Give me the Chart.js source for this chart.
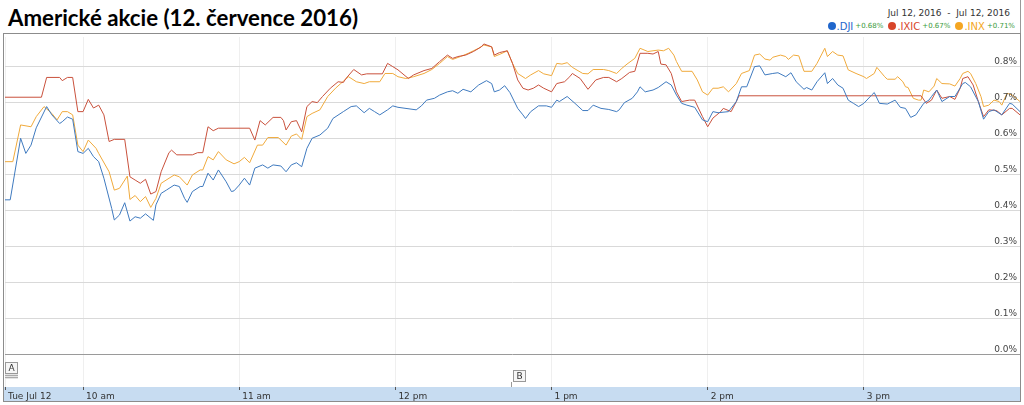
<!DOCTYPE html>
<html>
<head>
<meta charset="utf-8">
<script src="https://cdn.jsdelivr.net/npm/chart.js@4.4.1/dist/chart.umd.min.js"></script>
<style>
body{margin:0;width:1024px;height:405px;background:#fff;position:relative;overflow:hidden;font-family:"DejaVu Sans",Verdana,sans-serif}
#title{position:absolute;left:8px;top:6px;font:bold 23px/23px Lato,sans-serif;color:#000;white-space:nowrap;transform-origin:0 0}
#range{position:absolute;right:14px;top:8px;font-size:9px;line-height:11px;color:#333;white-space:pre}
#legend{position:absolute;right:9px;top:20px;height:12px;white-space:nowrap;display:flex;align-items:center}
#legend .dot{display:inline-block;width:8px;height:8px;border-radius:50%;margin-right:1px}
#legend .name{font-size:10px;margin-right:2px}
#legend .chg{font-size:7px;color:#3a9a3a;margin-right:5px}
#legend .chg:last-child{margin-right:0}
#edge{position:absolute;left:1020px;top:0;width:1px;height:34px;background:#999}
#frame{position:absolute;left:3px;top:33px;width:1016px;height:367px;border:1px solid #8c8c8c}
#chart{position:absolute;left:0;top:0}
</style>
</head>
<body>
<div id="title"></div>
<div id="range"></div>
<div id="legend"></div>
<div id="edge"></div>
<div id="frame"><canvas id="chart" width="1016" height="367"></canvas></div>
<script>
const titleText = "Americké akcie (12. července 2016)";
const rangeText = "Jul 12, 2016  -  Jul 12, 2016";

const seriesNames = [".DJI", ".IXIC", ".INX"];
const seriesChanges = ["+0.68%", "+0.67%", "+0.71%"];
const lineColors = ["#3f7abf", "#c9513c", "#f0aa3c"];
const dotColors = ["#1f66cc", "#d8452a", "#f4a623"];

// minutes after 9:30, percent change
const djiMinutes = [0,2,6,8,10,12,16,18,21,22,24,26,28,30,32,34,36,38,41,42,44,46,48,50,52,54,57,58,60,62,65,67,69,70,72,75,76,78,80,82,85,87,88,90,92,94,96,99,101,103,106,108,110,112,114,116,118,121,124,126,130,133,135,138,140,142,144,147,149,151,156,158,160,162,165,167,170,172,174,176,179,182,185,187,188,190,192,194,197,199,200,202,205,208,210,212,213,216,219,222,224,226,229,232,235,236,238,241,243,244,246,249,251,254,256,258,260,262,265,268,270,272,274,278,281,283,285,288,290,292,295,297,300,302,304,307,308,310,312,315,316,318,320,322,324,326,328,330,333,334,336,339,342,344,346,348,350,353,355,356,358,360,363,365,368,369,371,374,376,378,380,383,386,387,390];
const djiValues = [.431,.431,.602,.560,.583,.631,.690,.667,.643,.648,.661,.655,.565,.560,.574,.551,.537,.491,.407,.375,.389,.423,.372,.384,.380,.392,.374,.417,.449,.458,.472,.468,.435,.424,.454,.468,.468,.505,.486,.514,.481,.454,.456,.472,.491,.472,.519,.528,.519,.528,.525,.509,.528,.534,.523,.574,.602,.611,.630,.657,.676,.690,.692,.673,.685,.676,.667,.681,.692,.688,.683,.681,.692,.708,.713,.722,.731,.734,.727,.738,.731,.750,.762,.754,.731,.736,.748,.729,.685,.667,.657,.676,.692,.692,.688,.708,.704,.718,.699,.679,.679,.694,.685,.682,.676,.681,.701,.713,.731,.745,.731,.736,.743,.759,.750,.722,.699,.694,.688,.653,.648,.676,.673,.676,.704,.745,.745,.801,.803,.778,.782,.784,.773,.784,.759,.738,.743,.736,.759,.784,.754,.768,.750,.741,.708,.699,.690,.699,.722,.729,.699,.697,.708,.688,.685,.660,.667,.699,.708,.718,.736,.704,.718,.718,.754,.757,.745,.704,.655,.676,.681,.667,.699,.697,.676];

const ixicMinutes = [0,14,16,21,22,24,26,28,30,32,34,36,38,40,42,46,48,50,52,54,56,58,60,63,64,66,72,74,76,78,80,82,94,96,98,100,103,106,107,108,110,112,114,116,118,120,122,125,128,130,131,134,137,139,145,147,149,151,155,157,161,164,167,170,172,174,177,180,183,184,187,188,190,193,195,197,199,201,203,205,207,210,212,215,217,218,221,224,227,230,232,235,237,240,242,244,247,249,251,252,254,256,258,260,263,265,268,270,272,275,276,279,281,282,352,354,356,358,360,363,365,367,368,370,372,374,376,378,381,383,386,387,390];
const ixicValues = [.716,.716,.771,.771,.762,.771,.771,.676,.676,.710,.686,.694,.667,.593,.599,.599,.495,.486,.477,.488,.447,.454,.509,.562,.569,.556,.556,.562,.562,.634,.623,.630,.630,.597,.651,.639,.660,.660,.651,.625,.648,.651,.620,.690,.704,.701,.718,.741,.759,.757,.768,.793,.778,.781,.781,.810,.801,.792,.768,.778,.790,.796,.815,.833,.824,.829,.833,.843,.856,.864,.856,.833,.840,.845,.810,.764,.741,.736,.741,.750,.741,.731,.754,.759,.773,.782,.768,.738,.764,.771,.771,.759,.768,.785,.788,.838,.838,.836,.843,.808,.806,.782,.731,.704,.708,.708,.662,.634,.658,.676,.685,.676,.704,.720,.720,.699,.708,.736,.713,.718,.710,.741,.768,.773,.750,.704,.662,.681,.679,.667,.685,.685,.667];

const inxMinutes = [0,3,6,10,12,15,18,20,22,24,26,28,30,32,35,36,40,42,44,47,48,50,52,54,56,58,60,65,67,70,72,75,76,78,80,82,85,88,90,92,94,97,99,101,105,108,110,112,114,116,118,121,124,127,129,132,135,138,140,144,146,149,151,154,157,161,164,167,170,172,175,178,182,184,187,188,191,193,195,197,200,202,205,207,210,212,214,216,218,222,224,226,230,232,235,237,239,242,244,247,251,253,255,257,258,260,264,266,268,270,272,274,276,278,281,283,286,288,290,292,294,295,298,300,301,303,305,307,310,312,315,316,318,320,322,324,327,330,331,334,335,338,339,342,343,345,346,347,349,351,352,353,355,357,358,360,363,365,367,368,370,371,373,375,376,378,380,382,383,385,387,390];
const inxValues = [.537,.537,.639,.634,.662,.690,.671,.653,.676,.676,.667,.583,.565,.597,.574,.560,.509,.458,.463,.497,.432,.443,.426,.440,.410,.435,.477,.500,.495,.472,.500,.514,.514,.551,.542,.565,.542,.531,.537,.549,.534,.583,.583,.604,.604,.583,.608,.614,.599,.662,.671,.681,.718,.741,.754,.773,.759,.754,.759,.759,.782,.782,.773,.768,.773,.782,.793,.810,.829,.821,.829,.838,.852,.861,.856,.829,.838,.845,.810,.782,.768,.778,.790,.781,.776,.810,.808,.812,.799,.782,.781,.793,.793,.790,.782,.796,.808,.824,.852,.843,.847,.845,.852,.833,.815,.788,.788,.764,.731,.722,.741,.741,.745,.731,.754,.782,.790,.833,.836,.822,.819,.827,.833,.829,.821,.833,.831,.788,.788,.810,.852,.829,.843,.833,.831,.792,.782,.773,.768,.782,.799,.773,.766,.766,.773,.759,.745,.743,.713,.708,.708,.736,.731,.747,.768,.754,.753,.747,.768,.782,.788,.782,.754,.718,.690,.694,.708,.704,.694,.727,.722,.704];

const xTickMinutes = [0, 30, 90, 150, 210, 270, 330];
const xTickLabels = ["Tue Jul 12", "10 am", "11 am", "12 pm", "1 pm", "2 pm", "3 pm"];
const yTickValues = [0, 0.1, 0.2, 0.3, 0.4, 0.5, 0.6, 0.7, 0.8];

const flagLetters = ["A", "B"];
const flagMinutes = [0, 195];

// header
const titleEl = document.getElementById("title");
titleEl.textContent = titleText;
const tw = titleEl.getBoundingClientRect().width;
titleEl.style.transform = "scaleX(" + (350 / tw) + ")";
document.getElementById("range").textContent = rangeText;

const legendEl = document.getElementById("legend");
seriesNames.forEach((name, i) => {
    const dot = document.createElement("span");
    dot.className = "dot";
    dot.style.background = dotColors[i];
    const nm = document.createElement("span");
    nm.className = "name";
    nm.style.color = dotColors[i];
    nm.textContent = name;
    const ch = document.createElement("span");
    ch.className = "chg";
    ch.textContent = seriesChanges[i];
    legendEl.append(dot, nm, ch);
});

const bandPlugin = {
    id: "band",
    beforeDraw(chart) {
        const {ctx, chartArea} = chart;
        ctx.save();
        ctx.fillStyle = "#c7dcf1";
        ctx.fillRect(0, chartArea.bottom, chart.width, chart.height - chartArea.bottom);
        ctx.restore();
    }
};

const yLabelPlugin = {
    id: "yLabels",
    afterDatasetsDraw(chart) {
        const {ctx, chartArea, scales: {y}} = chart;
        ctx.save();
        ctx.font = "9px 'DejaVu Sans'";
        ctx.fillStyle = "#444";
        ctx.textAlign = "right";
        ctx.textBaseline = "bottom";
        yTickValues.forEach(v => {
            ctx.fillText(v.toFixed(1) + "%", chartArea.right - 3, y.getPixelForValue(v) - 1);
        });
        ctx.restore();
    }
};

const flagPlugin = {
    id: "flags",
    afterDatasetsDraw(chart) {
        const {ctx, chartArea, scales: {x}} = chart;
        ctx.save();
        ctx.font = "9px 'DejaVu Sans'";
        ctx.textAlign = "center";
        ctx.textBaseline = "middle";
        flagLetters.forEach((letter, i) => {
            const px = Math.round(x.getPixelForValue(flagMinutes[i]));
            const top = i === 0 ? chartArea.bottom - 25 : chartArea.bottom - 17;
            ctx.strokeStyle = "#999";
            ctx.lineWidth = 1;
            if (i === 0) {
                ctx.fillStyle = "#e4e4e4";
                ctx.fillRect(px, top + 12, 13, 5);
                ctx.strokeStyle = "#aaa";
                ctx.beginPath();
                ctx.moveTo(px, top + 13.5); ctx.lineTo(px + 13, top + 13.5);
                ctx.moveTo(px, top + 15.5); ctx.lineTo(px + 13, top + 15.5);
                ctx.stroke();
                ctx.strokeStyle = "#999";
            } else {
                ctx.beginPath();
                ctx.moveTo(px - 1.5, top + 12);
                ctx.lineTo(px - 1.5, chartArea.bottom);
                ctx.stroke();
            }
            ctx.fillStyle = "#f6f6f6";
            ctx.fillRect(px, top, 13, 12);
            ctx.strokeRect(px + 0.5, top + 0.5, 12, 11);
            ctx.fillStyle = "#333";
            ctx.fillText(letter, px + 6.5, top + 6.5);
        });
        ctx.restore();
    }
};

function toPoints(minutes, values) {
    return minutes.map((m, i) => ({x: m, y: values[i]}));
}

const seriesMinutes = [djiMinutes, ixicMinutes, inxMinutes];
const seriesValues = [djiValues, ixicValues, inxValues];

new Chart(document.getElementById("chart"), {
    type: "line",
    data: {
        datasets: seriesNames.map((name, i) => ({
            label: name,
            data: toPoints(seriesMinutes[i], seriesValues[i]),
            borderColor: lineColors[i],
            borderWidth: 1,
            pointRadius: 0,
            tension: 0,
            fill: false
        }))
    },
    options: {
        responsive: false,
        animation: false,
        devicePixelRatio: 1,
        layout: {padding: {left: 1, right: 0, top: 3, bottom: 0}},
        plugins: {legend: {display: false}, tooltip: {enabled: false}},
        scales: {
            x: {
                type: "linear",
                min: 0,
                max: 390,
                afterBuildTicks: s => { s.ticks = xTickMinutes.map(v => ({value: v})); },
                afterFit: s => { s.height = 14; },
                grid: {color: "#efefef", tickColor: "#555", tickLength: 3},
                border: {display: false},
                ticks: {
                    autoSkip: false,
                    maxRotation: 0,
                    align: "start",
                    labelOffset: 3,
                    padding: 1,
                    color: "#333",
                    font: {family: "DejaVu Sans", size: 9},
                    callback: v => xTickLabels[xTickMinutes.indexOf(v)]
                }
            },
            y: {
                position: "right",
                min: -0.0889,
                max: 0.8833,
                afterBuildTicks: s => { s.ticks = yTickValues.map(v => ({value: v})); },
                afterFit: s => { s.width = 0; },
                grid: {
                    color: c => (c.tick && c.tick.value === 0) ? "#9a9a9a" : "#d9d9d9",
                    drawTicks: false
                },
                border: {display: false},
                ticks: {display: false}
            }
        }
    },
    plugins: [bandPlugin, yLabelPlugin, flagPlugin]
});
</script>
</body>
</html>
